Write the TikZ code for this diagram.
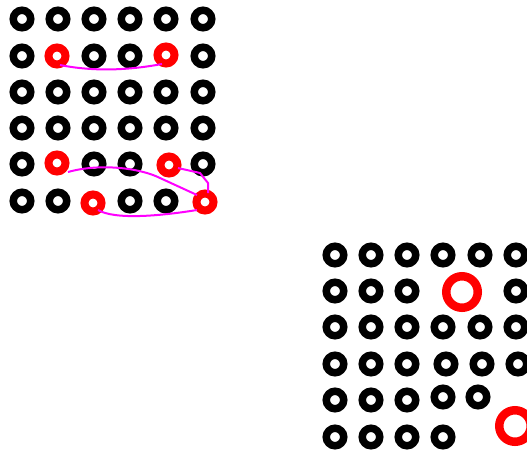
\documentclass[tikz,border=0pt]{standalone}
\usetikzlibrary{calc}
\definecolor{mag}{RGB}{255,0,255}
\begin{document}
\begin{tikzpicture}[x=1pt,y=-1pt,
  ring/.style={circle,draw=black,line width=7.5pt,minimum size=17.5pt,inner sep=0pt},
  redring/.style={circle,draw=red,line width=8pt,minimum size=17pt,inner sep=0pt},
  bigred/.style={circle,draw=red,line width=8.5pt,minimum size=31.5pt,inner sep=0pt},
  link/.style={draw=mag,line width=2pt}]
\useasboundingbox (0,0) rectangle (527,450);
\clip (0,0) rectangle (527,450);
% grid 1
\foreach \x [count=\i from 0] in {22,58,94,130,166,203}{
  \foreach \y [count=\j from 0] in {19,56,92,128,164,201}{
    \ifnum\j=1 \ifnum\i=1 \else\ifnum\i=4 \else \node[ring] (a\i\j) at (\x,\y) {};\fi\fi
    \else\ifnum\j=4 \ifnum\i=1 \else\ifnum\i=4 \else \node[ring] (a\i\j) at (\x,\y) {};\fi\fi
    \else\ifnum\j=5 \ifnum\i=2 \else\ifnum\i=5 \else \node[ring] (a\i\j) at (\x,\y) {};\fi\fi
    \else \node[ring] (a\i\j) at (\x,\y) {};
    \fi\fi\fi
  }
}
\node[redring] (r11) at (57,56) {};
\node[redring] (r41) at (166,55) {};
\node[redring] (r14) at (57,163) {};
\node[redring] (r44) at (169,165) {};
\node[redring] (r25) at (93,203) {};
\node[redring] (r55) at (205,202) {};
\draw[link] ($(r11)+(3,9)$) .. controls (95,72) and (130,70) .. ($(r41)+(-4,9)$);
\draw[link] ($(r14)+(11,9)$) .. controls (100,163) and (140,168) .. (160,178) -- ($(r55)+(-8,-7)$);
\draw[link] ($(r44)+(9,3)$) -- (200,173) -- (208,183) -- ($(r55)+(3,-9)$);
\draw[link] ($(r25)+(5,7)$) .. controls (115,220) and (160,216) .. ($(r55)+(-8,8)$);
% grid 2
\foreach \x [count=\i from 0] in {335,371,407,443,480,516}{
  \node[ring] (b\i0) at (\x,255) {};
  \node[ring] (b\i2) at (\x,327) {};
}
\foreach \x [count=\i from 0] in {335,371,407}{
  \node[ring] (b\i1) at (\x,291) {};
  \node[ring] (b\i3) at (\x,364) {};
  \node[ring] (b\i4) at (\x,400) {};
  \node[ring] (b\i5) at (\x,437) {};
}
\node[ring] (b51) at (516,291) {};
\node[ring] (b33) at (446,364) {};
\node[ring] (b43) at (482,364) {};
\node[ring] (b53) at (518,364) {};
\node[ring] (b34) at (443,397) {};
\node[ring] (b44) at (478,397) {};
\node[ring] (b35) at (443,437) {};
\node[bigred] (R1) at (462,292) {};
\node[bigred] (R2) at (515,426) {};
\end{tikzpicture}
\end{document}
